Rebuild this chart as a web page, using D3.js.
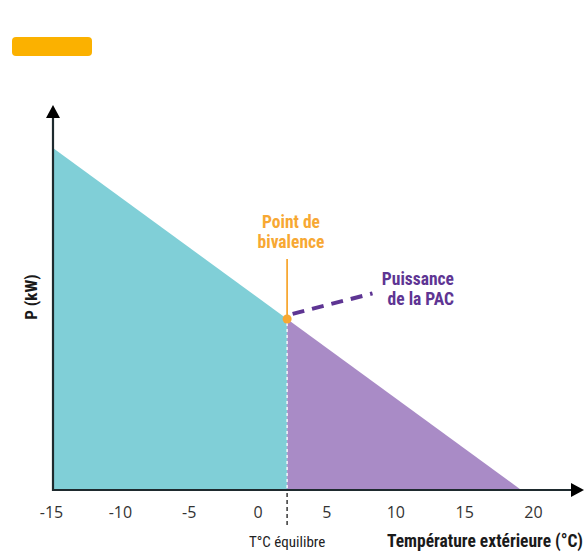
<!DOCTYPE html>
<html><head><meta charset="utf-8">
<script src="https://cdn.jsdelivr.net/npm/d3@7"></script>
<style>
body{margin:0;background:#fff;}
svg{display:block;font-family:"Liberation Sans Narrow","Roboto Condensed","Open Sans",sans-serif;}
</style></head>
<body><div id="chart"></div>
<script>
// Data
const xTicks = [-15, -10, -5, 0, 5, 10, 15, 20];
const lossTemps = [-15, 19];          // heat-loss line (°C)
const lossPower = [10, 0];            // kW
const bivalenceTemp = 2;              // °C équilibre
const pacTemps = [2.4, 8.2];          // PAC power curve (dashed)
const pacPower = [5.15, 5.75];
const labels = {
  y: "P (kW)",
  x: "Température extérieure (°C)",
  eq: "T°C équilibre",
  biv: ["Point de", "bivalence"],
  pac: ["Puissance", "de la PAC"]
};

const W = 585, H = 553;
const svg = d3.select("#chart").append("svg").attr("width", W).attr("height", H);

const x = d3.scaleLinear().domain([-15, 20]).range([53, 535]);
const y = d3.scaleLinear().domain([0, 10]).range([490, 148]);

const lossLine = d3.scaleLinear().domain(lossTemps).range(lossPower);
const pBiv = lossLine(bivalenceTemp);

// orange badge
svg.append("rect").attr("x", 12).attr("y", 37).attr("width", 80).attr("height", 19)
  .attr("rx", 4).attr("fill", "#FBB100");

const area = d3.area().x(d => x(d[0])).y0(y(0)).y1(d => y(d[1]));
svg.append("path").datum([[lossTemps[0], lossPower[0]], [bivalenceTemp, pBiv]])
  .attr("d", area).attr("fill", "#80CFD7");
svg.append("path").datum([[bivalenceTemp, pBiv], [lossTemps[1], lossPower[1]]])
  .attr("d", area).attr("fill", "#A98BC6");

// white dashed separator inside fill
svg.append("line").attr("x1", x(bivalenceTemp)).attr("x2", x(bivalenceTemp))
  .attr("y1", y(pBiv) + 4).attr("y2", y(0))
  .attr("stroke", "#ffffff").attr("stroke-width", 1.5).attr("stroke-dasharray", "3,3").attr("opacity", 0.9);
// grey dashed below axis
svg.append("line").attr("x1", x(bivalenceTemp)).attr("x2", x(bivalenceTemp))
  .attr("y1", y(0) + 3).attr("y2", 526)
  .attr("stroke", "#444").attr("stroke-width", 1.6).attr("stroke-dasharray", "4,3");

// orange vertical line
svg.append("line").attr("x1", x(bivalenceTemp)).attr("x2", x(bivalenceTemp))
  .attr("y1", 259).attr("y2", y(pBiv))
  .attr("stroke", "#F7A833").attr("stroke-width", 1.8);

// PAC dashed line
svg.append("path").datum(pacTemps.map((t, i) => [t, pacPower[i]]))
  .attr("d", d3.line().x(d => x(d[0])).y(d => y(d[1])))
  .attr("fill", "none").attr("stroke", "#5E3593").attr("stroke-width", 4)
  .attr("stroke-dasharray", "12,8");

// bivalence point
svg.append("circle").attr("cx", x(bivalenceTemp)).attr("cy", y(pBiv)).attr("r", 4.5).attr("fill", "#F7A833");

// axes
const axisCol = "#1e2a2e";
svg.append("line").attr("x1", 53).attr("x2", 53).attr("y1", 491).attr("y2", 114)
  .attr("stroke", axisCol).attr("stroke-width", 2.2);
svg.append("path").attr("d", "M53,105 L46,118 L60,118 Z").attr("fill", "#000");
svg.append("line").attr("x1", 52).attr("x2", 574).attr("y1", 490).attr("y2", 490)
  .attr("stroke", axisCol).attr("stroke-width", 2.2);
svg.append("path").attr("d", "M584,490 L571,483 L571,497 Z").attr("fill", "#000");

const xAxis = d3.axisBottom(x).tickValues(xTicks).tickSize(0).tickPadding(0).tickFormat(d => String(d).replace("\u2212", "-"));
const gx = svg.append("g").attr("transform", "translate(-2,507)").call(xAxis);
gx.select(".domain").remove();
gx.selectAll("text").attr("font-size", 16).attr("fill", "#333")
  .attr("font-family", "\"Liberation Sans Narrow\",\"Open Sans\",sans-serif").attr("dy", "0.71em");

// labels
svg.append("text").attr("x", x(bivalenceTemp)).attr("y", 547).attr("text-anchor", "middle")
  .attr("font-size", 15).attr("fill", "#222").text(labels.eq);
svg.append("text").attr("x", 583).attr("y", 547).attr("text-anchor", "end")
  .attr("font-size", 17.5).attr("font-weight", "bold").attr("fill", "#1a1a1a").text(labels.x);
svg.append("text").attr("transform", "translate(37,297) rotate(-90)").attr("text-anchor", "middle")
  .attr("font-size", 17).attr("font-weight", "bold").attr("fill", "#1a1a1a").text(labels.y);

labels.biv.forEach((s, i) => {
  svg.append("text").attr("x", 291).attr("y", 228 + i * 20).attr("text-anchor", "middle")
    .attr("font-size", 17.5).attr("font-weight", "bold").attr("fill", "#F7A833").text(s);
});
labels.pac.forEach((s, i) => {
  svg.append("text").attr("x", 454).attr("y", 285 + i * 20).attr("text-anchor", "end")
    .attr("font-size", 17.5).attr("font-weight", "bold").attr("fill", "#5E3593").text(s);
});
</script></body></html>
